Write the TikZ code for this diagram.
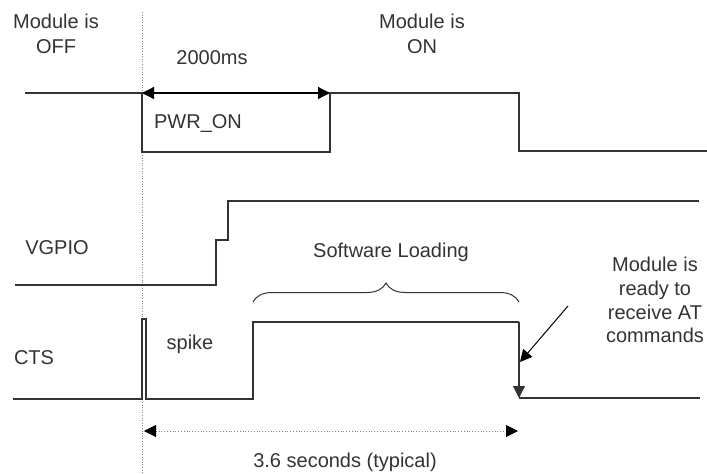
\documentclass[tikz,border=0pt]{standalone}
\usepackage{fontspec}
\setmainfont{Liberation Sans}
\usetikzlibrary{arrows.meta, decorations.pathreplacing}

\begin{document}
\begin{tikzpicture}[x=1pt, y=-1pt, every node/.style={font=\fontsize{20}{24.5}\selectfont, text=black!80, align=center, inner sep=0pt}, wave/.style={line width=1.2pt, draw=black!80}, >={Triangle[length=12pt, width=12pt]}]
        \useasboundingbox (0,0) rectangle (707,474);

        % Labels
        \node (off) at (56,34) {Module is\\OFF};
        \node (on) at (422,34) {Module is\\ON};
        \node (t2000) [anchor=base] at (212,64) {2000ms};
        \node (pwron) [anchor=base] at (198,128) {PWR\_ON};
        \node (vgpio) [anchor=base] at (57,254) {VGPIO};
        \node (cts) [anchor=base] at (34,364) {CTS};
        \node (spike) [anchor=base] at (190,349) {spike};
        \node (swload) [anchor=base] at (391,257) {Software Loading};
        \node (ready) [font=\fontsize{20}{23.7}\selectfont] at (655,300) {Module is\\ready to\\receive AT\\commands};
        \node (t36) [anchor=base] at (345,467) {3.6 seconds (typical)};

        % Corner points
        \coordinate (pwrA) at (142,93);
        \coordinate (pwrB) at (330,93);
        \coordinate (ctsA) at (519,322);
        \coordinate (ctsB) at (519,398);
        \coordinate (rdyA) at (568,306);
        \coordinate (rdyB) at (520,362);
        \coordinate (durA) at (144,431);
        \coordinate (durB) at (518,431);

        % Power-on marker
        \draw[gray, dotted, line width=0.6pt] (142,12) -- (142,474);

        % Waveforms
        \draw[wave] (25,93) -- (pwrA) -- (142,152) -- (330,152) -- (pwrB) -- (519,93) -- (519,151) -- (707,151);
        \draw[wave] (15,285) -- (216,285) -- (216,240) -- (228,240) -- (228,201) -- (699,201);
        \draw[wave] (13,399) -- (142,399) -- (142,319) -- (146,319) -- (146,399) -- (253,399) -- (253,322) -- (ctsA);
        \draw[wave, ->] (ctsA) -- (ctsB);
        \draw[wave] (ctsB) -- (700,398);

        % Brace over software loading
        \draw[wave, line width=1pt, decorate, decoration={brace, amplitude=19pt}] (253,302) -- (519,302);

        % Arrows
        \draw[<->, line width=1.2pt] (pwrA) -- (pwrB);
        \draw[->, line width=1pt] (rdyA) -- (rdyB);
        \draw[<->, gray, dotted, line width=0.8pt, >={Triangle[length=12pt, width=12pt, fill=black, color=black]}] (durA) -- (durB);

\end{tikzpicture}
\end{document}
